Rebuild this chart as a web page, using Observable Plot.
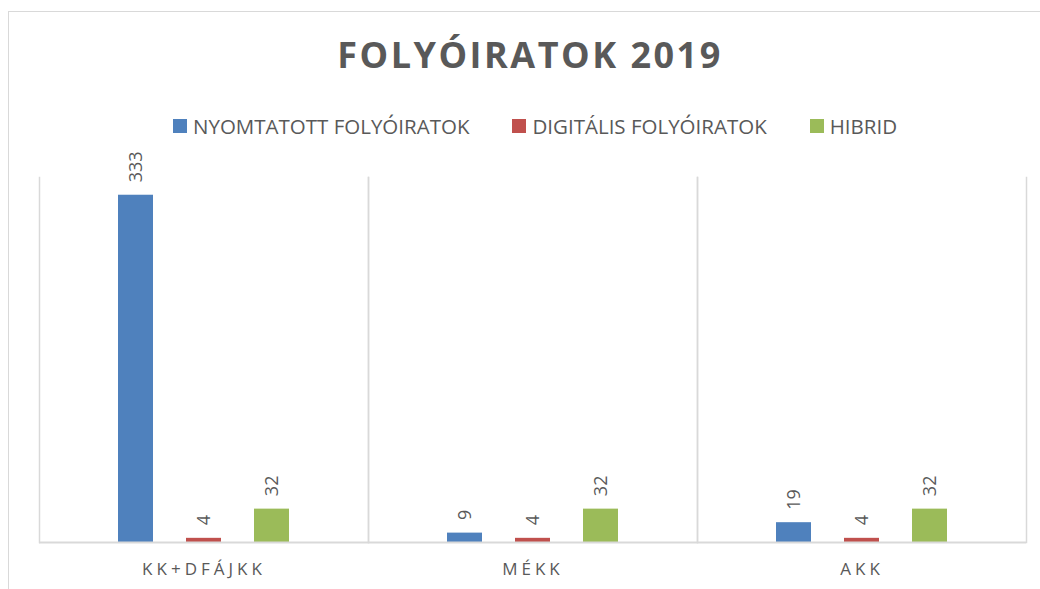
<!DOCTYPE html>
<html>
<head>
<meta charset="utf-8">
<script src="https://cdn.jsdelivr.net/npm/d3@7"></script>
<script src="https://cdn.jsdelivr.net/npm/@observablehq/plot@0.6"></script>
<style>
  html, body { margin: 0; padding: 0; background: #fff; }
  #page { position: relative; width: 1040px; height: 589px; overflow: hidden; font-family: "Open Sans", sans-serif; }
  #border { position: absolute; left: 8px; top: 11px; width: 1100px; height: 700px; border-top: 1.5px solid #d9d9d9; border-left: 1.5px solid #d9d9d9; box-sizing: border-box; }
  #title { position: absolute; left: 0; width: 1060px; top: 37px; text-align: center; font-size: 36px; line-height: 36px; font-weight: 700; color: #595959; letter-spacing: 2.5px; }
  #legend { position: absolute; left: 173px; top: 115.5px; display: flex; align-items: center; font-size: 20.5px; line-height: 20.5px; color: #595959; }
  #legend .item { display: flex; align-items: center; margin-right: 43px; }
  #legend .sw { width: 14px; height: 14px; margin-right: 6px; }
  #chart { position: absolute; left: 0; top: 150px; }
</style>
</head>
<body>
<div id="page">
  <div id="border"></div>
  <div id="title">FOLYÓIRATOK 2019</div>
  <div id="legend"></div>
  <div id="chart"></div>
</div>
<script>
const categories = ["KK+DFÁJKK", "MÉKK", "AKK"];
const seriesNames = ["NYOMTATOTT FOLYÓIRATOK", "DIGITÁLIS FOLYÓIRATOK", "HIBRID"];
const printed = [333, 9, 19];
const digital = [4, 4, 4];
const hybrid = [32, 32, 32];
const colors = ["#4f81bd", "#c0504d", "#9bbb59"];

const seriesValues = [printed, digital, hybrid];
const data = categories.flatMap((c, i) =>
  seriesNames.map((s, j) => ({cat: c, series: s, value: seriesValues[j][i]}))
);

// legend
const legend = d3.select("#legend");
seriesNames.forEach((s, j) => {
  const it = legend.append("div").attr("class", "item");
  if (j === seriesNames.length - 1) it.style("margin-right", "0px");
  it.append("div").attr("class", "sw").style("background", colors[j]);
  it.append("span").text(s);
});

const chart = Plot.plot({
  width: 1040,
  height: 439,
  marginLeft: 38,
  marginRight: 14,
  marginTop: 27,
  marginBottom: 47,
  fx: {domain: categories, padding: 0, label: null},
  x: {domain: seriesNames, paddingInner: 0.485, paddingOuter: 1.16, axis: null},
  y: {domain: [0, 350], axis: null},
  color: {domain: seriesNames, range: colors},
  style: {fontFamily: "Open Sans", color: "#595959", background: "transparent", overflow: "visible"},
  marks: [
    Plot.frame({anchor: "left", stroke: "#d9d9d9", strokeWidth: 1.5, strokeOpacity: 1}),
    Plot.frame({anchor: "right", stroke: "#d9d9d9", strokeWidth: 1.5, strokeOpacity: 1}),
    Plot.barY(data, {fx: "cat", x: "series", y: "value", fill: "series"}),
    Plot.ruleY([0], {stroke: "#d9d9d9", strokeWidth: 2}),
    Plot.text(data, {
      fx: "cat", x: "series", y: "value",
      text: d => String(d.value),
      rotate: -90, textAnchor: "start", dy: -13,
      fontSize: 18, fill: "#595959"
    }),
    Plot.axisFx({anchor: "bottom", tickSize: 0, tickPadding: 20.5, fontSize: 17, label: null, dx: 0, fill: "#595959"})
  ]
});
document.getElementById("chart").appendChild(chart);
d3.select(chart).selectAll('g[aria-label="fx-axis tick label"] text').style("letter-spacing", "4px");
</script>
</body>
</html>
